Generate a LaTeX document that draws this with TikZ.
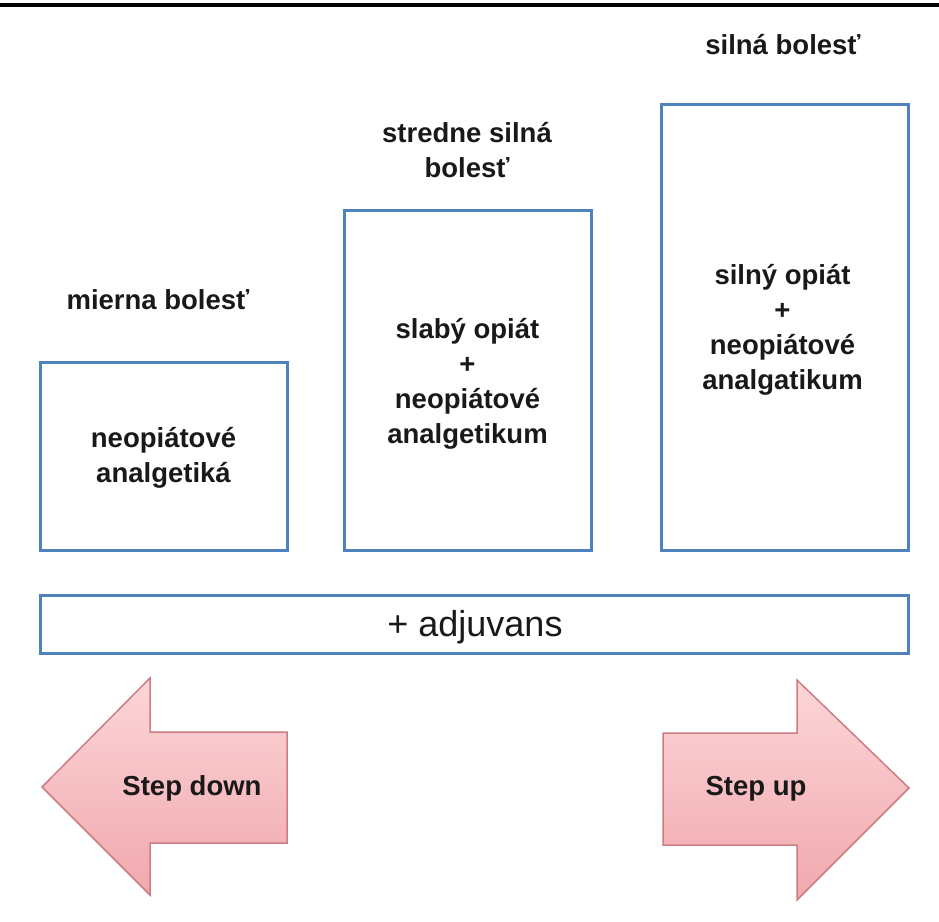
\documentclass[tikz,border=0pt]{standalone}
\usepackage{fontspec}
\setmainfont{Liberation Sans}
\begin{document}
\begin{tikzpicture}[x=1pt,y=-1pt,
  bx/.style={draw=boxblue,line width=3pt,fill=white},
  lbl/.style={font=\fontsize{27.5}{35}\selectfont\bfseries,align=center,text=black!90},
  arr/.style={draw=arrborder,line width=1.5pt,top color=pinktop,bottom color=pinkbot,line join=miter}]
\definecolor{boxblue}{RGB}{79,129,189}
\definecolor{pinktop}{RGB}{252,214,216}
\definecolor{pinkbot}{RGB}{240,168,174}
\definecolor{arrborder}{RGB}{205,125,130}
\useasboundingbox (0,0) rectangle (939,921);
\draw[line width=3.5pt] (0,5) -- (939,5);
% boxes
\draw[bx] (40,362) rectangle (287,550);
\draw[bx] (344,210) rectangle (591,550);
\draw[bx] (661,104) rectangle (908,550);
\draw[bx] (40,595) rectangle (908,653);
\node[lbl] (t1) at (163.5,458) {neopiátové\\analgetiká};
\node[lbl] (t2) at (467.5,384) {slabý opiát\\+\\neopiátové\\analgetikum};
\node[lbl] (t3) at (782.5,330) {silný opiát\\+\\neopiátové\\analgatikum};
\node[lbl] (h1) at (158,300) {mierna bolesť};
\node[lbl] (h2) at (467,150) {stredne silná\\bolesť};
\node[lbl] (h3) at (783,45) {silná bolesť};
\node[font=\fontsize{36}{40}\selectfont,text=black!90] (adj) at (475,627) {+ adjuvans};
% arrows
\draw[arr] (42,787) -- (150,678) -- (150,732) -- (287,732) -- (287,843) -- (150,843) -- (150,895) -- cycle;
\draw[arr] (909,788) -- (797,680) -- (797,733) -- (663,733) -- (663,845) -- (797,845) -- (797,900) -- cycle;
\node[lbl] (sd) at (192,788) {Step down};
\node[lbl] (su) at (756,789) {Step up};
\end{tikzpicture}
\end{document}
